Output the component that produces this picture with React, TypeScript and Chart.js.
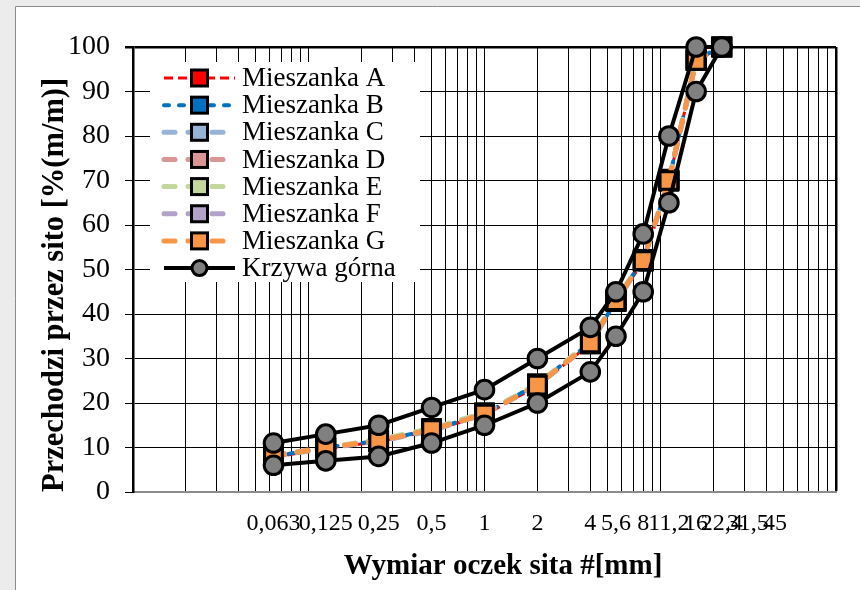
import React, { useEffect, useRef } from 'react';
import { Chart, registerables } from 'chart.js';

Chart.register(...registerables);

const FONT = '"Liberation Serif", "Times New Roman", serif';

// sieve sizes (mm) at which points are measured
const sieveSizes = [0.063, 0.125, 0.25, 0.5, 1, 2, 4, 5.6, 8, 11.2, 16, 22.4];
// labelled ticks on the x axis
const tickValues = [0.063, 0.125, 0.25, 0.5, 1, 2, 4, 5.6, 8, 11.2, 16, 22.4, 31.5, 45];
const tickLabels = ['0,063', '0,125', '0,25', '0,5', '1', '2', '4', '5,6', '8', '11,2', '16', '22,4', '31,5', '45'];
// logarithmic grid
const gridDecades = [0.01, 0.1, 1, 10];
const gridMultipliers = [1, 2, 3, 4, 5, 6, 7, 8, 9];
const xMin = 0.01;
const xMax = 100;

const mieszankaA = [7.8, 9.8, 11.3, 13.8, 17.3, 23.8, 33.3, 42.8, 51.8, 69.8, 97, 100];
const mieszankaB = [8, 10, 11.5, 14, 17.5, 24.3, 33.5, 43, 52.3, 70, 97.3, 100];
const mieszankaC = [8, 10, 11.3, 13.8, 17.5, 24, 33.3, 42.8, 52, 70, 97, 100];
const mieszankaD = [8.3, 10, 11.5, 14, 17.8, 24, 33.5, 43, 52, 70.3, 97, 100];
const mieszankaE = [8, 10, 11.8, 14.3, 17.8, 24.3, 33.8, 43.3, 52.3, 70, 97.3, 100];
const mieszankaF = [8, 9.8, 11.5, 14, 17.5, 24, 33.5, 43, 52, 70, 97, 100];
const mieszankaG = [8, 10, 11.5, 14, 17.5, 24, 33.5, 43, 52, 70, 97, 100];
const krzywaGorna = [11, 13, 15, 19, 23, 30, 37, 45, 58, 80, 100, 100];
const krzywaDolna = [6, 7, 8, 11, 15, 20, 27, 35, 45, 65, 90, 100];

const seriesNames = ['Mieszanka A', 'Mieszanka B', 'Mieszanka C', 'Mieszanka D', 'Mieszanka E', 'Mieszanka F', 'Mieszanka G', 'Krzywa górna', 'Krzywa dolna'];
const seriesColors = ['#FF0000', '#0070C0', '#95B3D7', '#D99694', '#C3D69B', '#B3A2C7', '#F79646'];

const toPoints = (vals: number[]) => sieveSizes.map((x, i) => ({ x, y: vals[i] }));

const bgPlugin = {
  id: 'bgFrame',
  beforeDraw(chart: any) {
    const ctx = chart.ctx;
    ctx.save();
    ctx.fillStyle = '#ececec';
    ctx.fillRect(0, 0, chart.width, chart.height);
    ctx.fillStyle = '#ffffff';
    ctx.fillRect(15, 6, chart.width - 15, chart.height - 6);
    ctx.strokeStyle = '#8a8a8a';
    ctx.lineWidth = 1;
    ctx.beginPath();
    ctx.moveTo(15.5, chart.height);
    ctx.lineTo(15.5, 6.5);
    ctx.lineTo(chart.width, 6.5);
    ctx.stroke();
    ctx.restore();
  },
};

const legendPlugin = {
  id: 'insideLegend',
  afterDatasetsDraw(chart: any) {
    const ctx = chart.ctx;
    ctx.save();
    ctx.fillStyle = '#ffffff';
    ctx.fillRect(150, 62, 270, 220);
    const items = chart.data.datasets.filter((d: any) => !d.hideInLegend);
    items.forEach((d: any, i: number) => {
      const y = 78 + i * 27.15;
      ctx.save();
      ctx.strokeStyle = d.borderColor;
      ctx.lineWidth = d.borderWidth;
      ctx.lineCap = d.borderCapStyle || 'butt';
      ctx.setLineDash(d.borderDash || []);
      ctx.beginPath();
      ctx.moveTo(164, y);
      ctx.lineTo(235, y);
      ctx.stroke();
      ctx.restore();
      ctx.save();
      ctx.fillStyle = d.pointBackgroundColor;
      ctx.strokeStyle = '#000';
      ctx.lineWidth = 3;
      ctx.setLineDash([]);
      if (d.pointStyle === 'circle') {
        ctx.beginPath();
        ctx.arc(199.5, y, 7.5, 0, Math.PI * 2);
        ctx.fill();
        ctx.stroke();
      } else {
        ctx.fillRect(191.5, y - 8, 16, 16);
        ctx.strokeRect(191.5, y - 8, 16, 16);
      }
      ctx.restore();
      ctx.fillStyle = '#000';
      ctx.font = `27px ${FONT}`;
      ctx.textAlign = 'left';
      ctx.textBaseline = 'middle';
      ctx.fillText(d.label, 242, y + 1);
    });
    ctx.restore();
  },
  afterDraw(chart: any) {
    const ctx = chart.ctx;
    ctx.save();
    ctx.fillStyle = '#000';
    ctx.font = `bold 29px ${FONT}`;
    ctx.textAlign = 'center';
    ctx.textBaseline = 'middle';
    ctx.fillText('Wymiar oczek sita #[mm]', 503, 567);
    ctx.restore();
  },
};

export default function App() {
  const ref = useRef<HTMLCanvasElement | null>(null);

  useEffect(() => {
    document.body.style.margin = '0';
    const canvas = ref.current;
    if (!canvas) return;

    const mixtures = [mieszankaA, mieszankaB, mieszankaC, mieszankaD, mieszankaE, mieszankaF, mieszankaG];
    const mixDatasets = mixtures.map((vals, i) => {
      const isA = i === 0;
      const isB = i === 1;
      return {
        label: seriesNames[i],
        data: toPoints(vals),
        borderColor: seriesColors[i],
        backgroundColor: seriesColors[i],
        pointBackgroundColor: seriesColors[i],
        pointBorderColor: '#000',
        pointBorderWidth: 3,
        pointRadius: 12.5,
        pointHoverRadius: 12.5,
        pointStyle: 'rect',
        borderWidth: isA ? 3 : isB ? 4 : 5,
        borderDash: isA ? [9, 5] : isB ? [5, 10] : [11, 13],
        borderCapStyle: isA ? 'butt' : 'round',
        fill: false,
        tension: 0,
        clip: false,
        order: 8 - i,
      };
    });

    const curve = (vals: number[], label: string, hide: boolean, order: number) => ({
      label,
      data: toPoints(vals),
      borderColor: '#000',
      backgroundColor: '#808080',
      pointBackgroundColor: '#808080',
      pointBorderColor: '#000',
      pointBorderWidth: 3,
      pointRadius: 9.3,
      pointHoverRadius: 9.3,
      pointStyle: 'circle',
      borderWidth: 4,
      borderDash: [],
      borderCapStyle: 'butt',
      fill: false,
      tension: 0,
      clip: false,
      order,
      hideInLegend: hide,
    });

    const gridTicks: number[] = [];
    gridDecades.forEach((d) => gridMultipliers.forEach((m) => gridTicks.push(+(d * m).toPrecision(3))));
    gridTicks.push(xMax);

    const chart = new Chart(canvas, {
      type: 'line',
      data: {
        datasets: [
          ...mixDatasets,
          curve(krzywaGorna, seriesNames[7], false, 0),
          curve(krzywaDolna, seriesNames[8], true, 1),
        ] as any,
      },
      options: {
        responsive: false,
        animation: false,
        devicePixelRatio: 1,
        layout: { padding: { top: 47, right: 24, bottom: 0, left: 0 } },
        plugins: {
          legend: { display: false },
          tooltip: { enabled: false },
          title: { display: false },
        },
        scales: {
          x: {
            type: 'logarithmic',
            min: xMin,
            max: xMax,
            position: 'bottom',
            weight: 0,
            afterBuildTicks: (s: any) => {
              s.ticks = gridTicks.map((v) => ({ value: v }));
            },
            afterFit: (s: any) => {
              s.height = 0;
            },
            ticks: { display: false },
            grid: {
              color: '#000',
              lineWidth: (c: any) => (c.tick && c.tick.value === xMax ? 2.5 : 1),
              drawTicks: false,
            },
            border: { display: true, color: '#8c8c8c', width: 2 },
          },
          x2: {
            type: 'logarithmic',
            min: xMin,
            max: xMax,
            position: 'bottom',
            weight: 1,
            afterBuildTicks: (s: any) => {
              s.ticks = tickValues.map((v) => ({ value: v }));
            },
            afterFit: (s: any) => {
              s.height = 98;
            },
            ticks: {
              autoSkip: false,
              maxRotation: 0,
              minRotation: 0,
              padding: 17,
              color: '#000',
              font: { family: FONT, size: 24 },
              callback: (_v: any, i: number) => tickLabels[i],
            },
            grid: { display: false, drawTicks: false },
            border: { display: false },
          },
          y: {
            type: 'linear',
            min: 0,
            max: 100,
            afterFit: (s: any) => {
              s.width = 133;
            },
            ticks: {
              stepSize: 10,
              padding: 15,
              color: '#000',
              font: { family: FONT, size: 28 },
            },
            grid: {
              color: '#000',
              lineWidth: (c: any) => (c.tick && c.tick.value === 100 ? 2.5 : 1),
              drawTicks: true,
              tickLength: 8,
            },
            border: { display: true, color: '#000', width: 2.5 },
            title: {
              display: true,
              text: 'Przechodzi przez sito [%(m/m)]',
              align: 'start',
              color: '#000',
              font: { family: FONT, size: 30.5, weight: 'bold' },
              padding: { top: 36.5, bottom: 0 },
            },
          },
        },
      } as any,
      plugins: [bgPlugin, legendPlugin],
    });

    return () => chart.destroy();
  }, []);

  return <canvas ref={ref} width={860} height={590} style={{ display: 'block' }} />;
}
